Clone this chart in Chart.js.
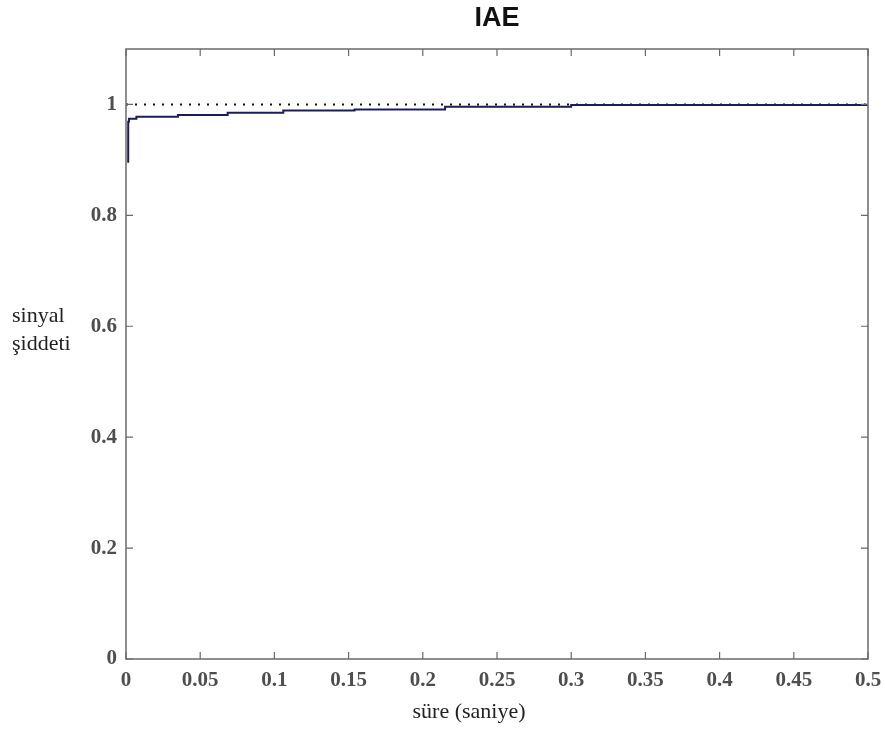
<!DOCTYPE html>
<html>
<head>
<meta charset="utf-8">
<title>IAE</title>
<script src="https://cdn.jsdelivr.net/npm/chart.js@4.4.1/dist/chart.umd.min.js"></script>
<style>
  body { margin: 0; background: #fff; }
</style>
</head>
<body>
<canvas id="myChart" width="885" height="733"></canvas>
<script>
// step response
var stepTimes = [0.0015, 0.002, 0.007, 0.035, 0.0685, 0.106, 0.154, 0.215, 0.300, 0.447, 0.5];
var stepValues = [0.895, 0.969, 0.974, 0.978, 0.981, 0.985, 0.989, 0.991, 0.996, 0.999, 0.999];
// reference level (dotted)
var refTimes = [0, 0.5];
var refValues = [1, 1];
var xTicks = [0, 0.05, 0.1, 0.15, 0.2, 0.25, 0.3, 0.35, 0.4, 0.45, 0.5];
var yTicks = [0, 0.2, 0.4, 0.6, 0.8, 1];

function toPoints(xs, ys) {
    var pts = [];
    for (var i = 0; i < xs.length; i++) {
        pts.push({ x: xs[i], y: ys[i] });
    }
    return pts;
}

// box, inner ticks and the horizontal axis texts
var boxPlugin = {
    id: 'box',
    afterDraw: function (chart) {
        var ctx = chart.ctx;
        var a = chart.chartArea;
        var xs = chart.scales.x;
        var ys = chart.scales.y;
        ctx.save();
        ctx.strokeStyle = '#6a6a6a';
        ctx.lineWidth = 1.5;
        ctx.strokeRect(a.left, a.top, a.right - a.left, a.bottom - a.top);
        ctx.lineWidth = 1.2;
        ctx.beginPath();
        xTicks.forEach(function (v) {
            var px = xs.getPixelForValue(v);
            ctx.moveTo(px, a.bottom); ctx.lineTo(px, a.bottom - 7);
            ctx.moveTo(px, a.top); ctx.lineTo(px, a.top + 7);
        });
        yTicks.forEach(function (v) {
            var py = ys.getPixelForValue(v);
            ctx.moveTo(a.left, py); ctx.lineTo(a.left + 7, py);
            ctx.moveTo(a.right, py); ctx.lineTo(a.right - 7, py);
        });
        ctx.stroke();

        ctx.fillStyle = '#222';
        ctx.font = '22px "Liberation Serif", "Times New Roman", serif';
        ctx.textAlign = 'left';
        ctx.textBaseline = 'alphabetic';
        ctx.fillText('sinyal', 12, 322);
        ctx.fillText('şiddeti', 12, 350);
        ctx.textAlign = 'center';
        ctx.fillText('süre (saniye)', 469, 718);
        ctx.restore();
    }
};

var ctx = document.getElementById('myChart').getContext('2d');
var myChart = new Chart(ctx, {
    type: 'line',
    data: {
        datasets: [{
            label: 'ref',
            data: toPoints(refTimes, refValues),
            borderColor: '#111',
            borderWidth: 2,
            borderDash: [2, 7],
            pointRadius: 0,
            fill: false,
            order: 2
        }, {
            label: 'IAE',
            data: toPoints(stepTimes, stepValues),
            borderColor: '#1c1c5c',
            borderWidth: 2,
            stepped: 'after',
            pointRadius: 0,
            fill: false,
            order: 1
        }]
    },
    options: {
        responsive: false,
        animation: false,
        layout: { padding: { left: 0, right: 17, top: 0, bottom: 0 } },
        plugins: {
            legend: { display: false },
            tooltip: { enabled: false },
            title: {
                display: true,
                text: 'IAE',
                fullSize: false,
                color: '#111',
                font: { family: 'Arial, "Liberation Sans", sans-serif', size: 27, weight: 'bold', lineHeight: 1.2 },
                padding: { top: 2, bottom: 14.6 }
            }
        },
        scales: {
            x: {
                type: 'linear',
                min: 0,
                max: 0.5,
                grid: { display: false, drawTicks: false },
                border: { display: false },
                afterBuildTicks: function (scale) {
                    scale.ticks = xTicks.map(function (v) { return { value: v }; });
                },
                afterFit: function (scale) {
                    scale.height = 74;
                    scale.paddingLeft = 0;
                    scale.paddingRight = 0;
                },
                ticks: {
                    padding: 9,
                    maxRotation: 0,
                    autoSkip: false,
                    color: '#4e4e4e',
                    font: { family: '"Liberation Serif", "Times New Roman", serif', size: 21, weight: 'bold' },
                    callback: function (v) { return String(v); }
                }
            },
            y: {
                min: 0,
                max: 1.1,
                grid: { display: false, drawTicks: false },
                border: { display: false },
                afterBuildTicks: function (scale) {
                    scale.ticks = yTicks.map(function (v) { return { value: v }; });
                },
                afterFit: function (scale) {
                    scale.width = 126;
                    scale.paddingTop = 0;
                    scale.paddingBottom = 0;
                },
                ticks: {
                    padding: 9,
                    autoSkip: false,
                    color: '#4e4e4e',
                    font: { family: '"Liberation Serif", "Times New Roman", serif', size: 21, weight: 'bold' },
                    callback: function (v) { return String(v); }
                }
            }
        }
    },
    plugins: [boxPlugin]
});
</script>
</body>
</html>
